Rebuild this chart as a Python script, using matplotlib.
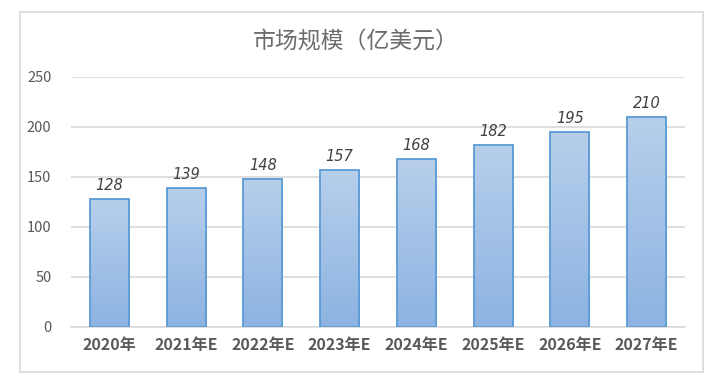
import matplotlib.pyplot as plt
import numpy as np
from matplotlib.patches import Rectangle
from matplotlib.colors import LinearSegmentedColormap

plt.rcParams['font.family'] = ['Noto Sans CJK SC', 'DejaVu Sans']

years = ['2020年', '2021年E', '2022年E', '2023年E', '2024年E', '2025年E', '2026年E', '2027年E']
values = [128, 139, 148, 157, 168, 182, 195, 210]

fig = plt.figure(figsize=(7.21, 3.83), dpi=100)
ax = fig.add_axes([71/721, 1-327/383, (685-71)/721, 250/383])

# outer chart border
fig.patches.append(Rectangle((20/721, 1-372/383), 683/721, 360/383, transform=fig.transFigure,
                             fill=False, edgecolor='#d9d9d9', linewidth=1.2))

x = np.arange(len(years))
bars = ax.bar(x, values, width=0.51, color='none', edgecolor='#5b9bd5', linewidth=1.3, zorder=3)

# vertical gradient fill for each bar
grad = np.linspace(0, 1, 256).reshape(-1, 1)
cmap = LinearSegmentedColormap.from_list('g', ['#8db3e2', '#b7cfeb'])
for b in bars:
    x0, y0 = b.get_x(), b.get_y()
    w, h = b.get_width(), b.get_height()
    im = ax.imshow(grad, extent=[x0, x0 + w, y0, y0 + h], origin='lower', cmap=cmap,
                   aspect='auto', zorder=2)
    im.set_clip_path(b)

for xi, v in zip(x, values):
    ax.text(xi, v + 6, str(v), ha='center', va='bottom', fontsize=10.5, style='italic',
            color='#404040', family='DejaVu Sans')

ax.set_xlim(-0.5, len(years) - 0.5)
ax.set_ylim(0, 250)
ax.set_yticks([0, 50, 100, 150, 200, 250])
ax.set_xticks(x)
ax.set_xticklabels(years, fontsize=11.5, fontweight='bold', color='#595959')
ax.tick_params(axis='y', labelsize=10.5, labelcolor='#595959', length=0, pad=14)
ax.tick_params(axis='x', length=0, pad=7)
ax.grid(axis='y', color='#d9d9d9', linewidth=1.2, zorder=0)
ax.set_axisbelow(True)
for s in ['top', 'right', 'left']:
    ax.spines[s].set_visible(False)
ax.spines['bottom'].set_color('#d9d9d9')
ax.spines['bottom'].set_linewidth(1.2)

fig.text(356/721, 1-42/383, '市场规模（亿美元）', ha='center', va='center', fontsize=16.5,
         color='#6b6b6b')

fig.savefig('out.png', dpi=100)
